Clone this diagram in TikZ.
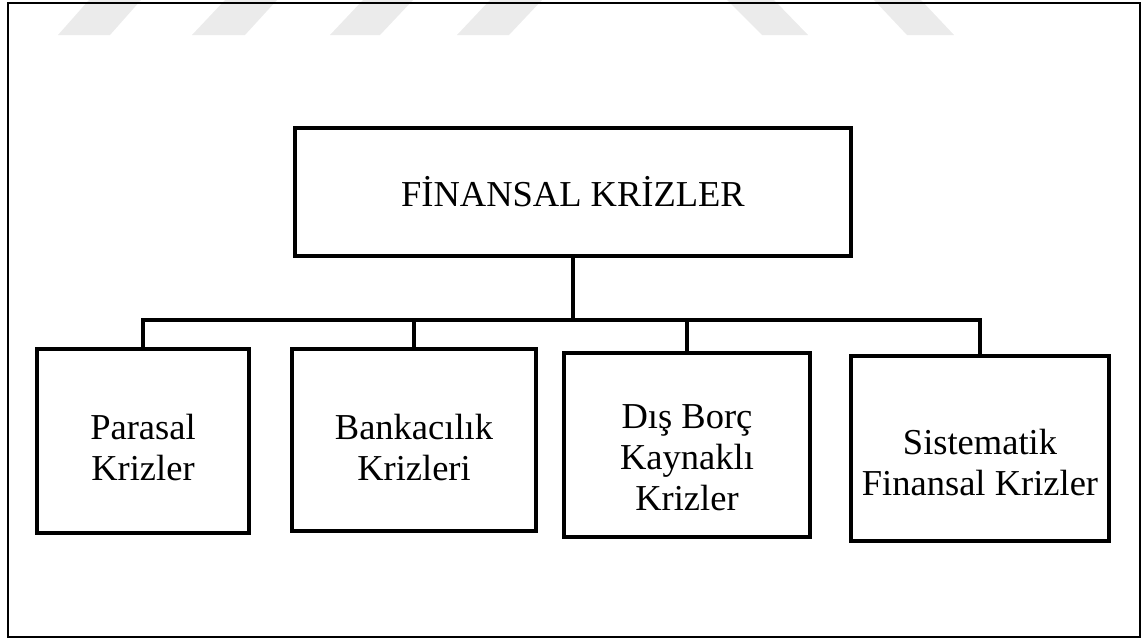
\documentclass[tikz,border=0pt]{standalone}
\usepackage{fontspec}
\setmainfont{Liberation Serif}
\usepackage{xcolor}

\begin{document}
\begin{tikzpicture}[x=1pt,y=-1pt,
	kutu/.style={draw,rectangle,line width=3.6pt,inner sep=0pt},
	yazi/.style={align=center,font=\fontsize{36.5}{41}\selectfont},
	hat/.style={line width=3.6pt},
	filigran/.style={fill=black!8,draw=none}]
		\useasboundingbox (0,0) rectangle (1143,640);
		% soluk filigran
		\fill[filigran] (58,35) -- (110,35) -- (141,0) -- (89,0) -- cycle;
		\fill[filigran] (192,35) -- (245,35) -- (277,0) -- (225,0) -- cycle;
		\fill[filigran] (330,35) -- (380,35) -- (413,0) -- (363,0) -- cycle;
		\fill[filigran] (457,35) -- (509,35) -- (542,0) -- (490,0) -- cycle;
		\fill[filigran] (762,35) -- (808,35) -- (774,0) -- (727,0) -- cycle;
		\fill[filigran] (907,35) -- (954,35) -- (921,0) -- (874,0) -- cycle;
		\draw[line width=1.8pt] (8,3) rectangle (1140,637);
		% kutular
		\node[kutu,yazi,minimum width=556,minimum height=128] (finansal) at (573,192) {FİNANSAL KRİZLER};
		\node[kutu,minimum width=212,minimum height=184] (parasal) at (143,441) {};
		\node[kutu,minimum width=244,minimum height=182] (bankacilik) at (414,440) {};
		\node[kutu,minimum width=246,minimum height=184] (disborc) at (687,445) {};
		\node[kutu,minimum width=258,minimum height=185] (sistematik) at (980,448.5) {};
		\node[yazi] (parasalyazi) at ([yshift=-7pt]parasal.center) {Parasal\\Krizler};
		\node[yazi] (bankacilikyazi) at ([yshift=-8pt]bankacilik.center) {Bankacılık\\Krizleri};
		\node[yazi] (disborcyazi) at ([yshift=-13pt]disborc.center) {Dış Borç\\Kaynaklı\\Krizler};
		\node[yazi] (sistematikyazi) at ([yshift=-14pt]sistematik.center) {Sistematik\\Finansal Krizler};
		% baglantilar
		\coordinate (bus) at (573,320);
		\draw[hat] (finansal.south) -- (bus);
		\draw[hat] (parasal.north) |- (sistematik.north |- bus) -- (sistematik.north);
		\draw[hat] (bankacilik.north) -- (bankacilik.north |- bus);
		\draw[hat] (disborc.north) -- (disborc.north |- bus);
\end{tikzpicture}
\end{document}
